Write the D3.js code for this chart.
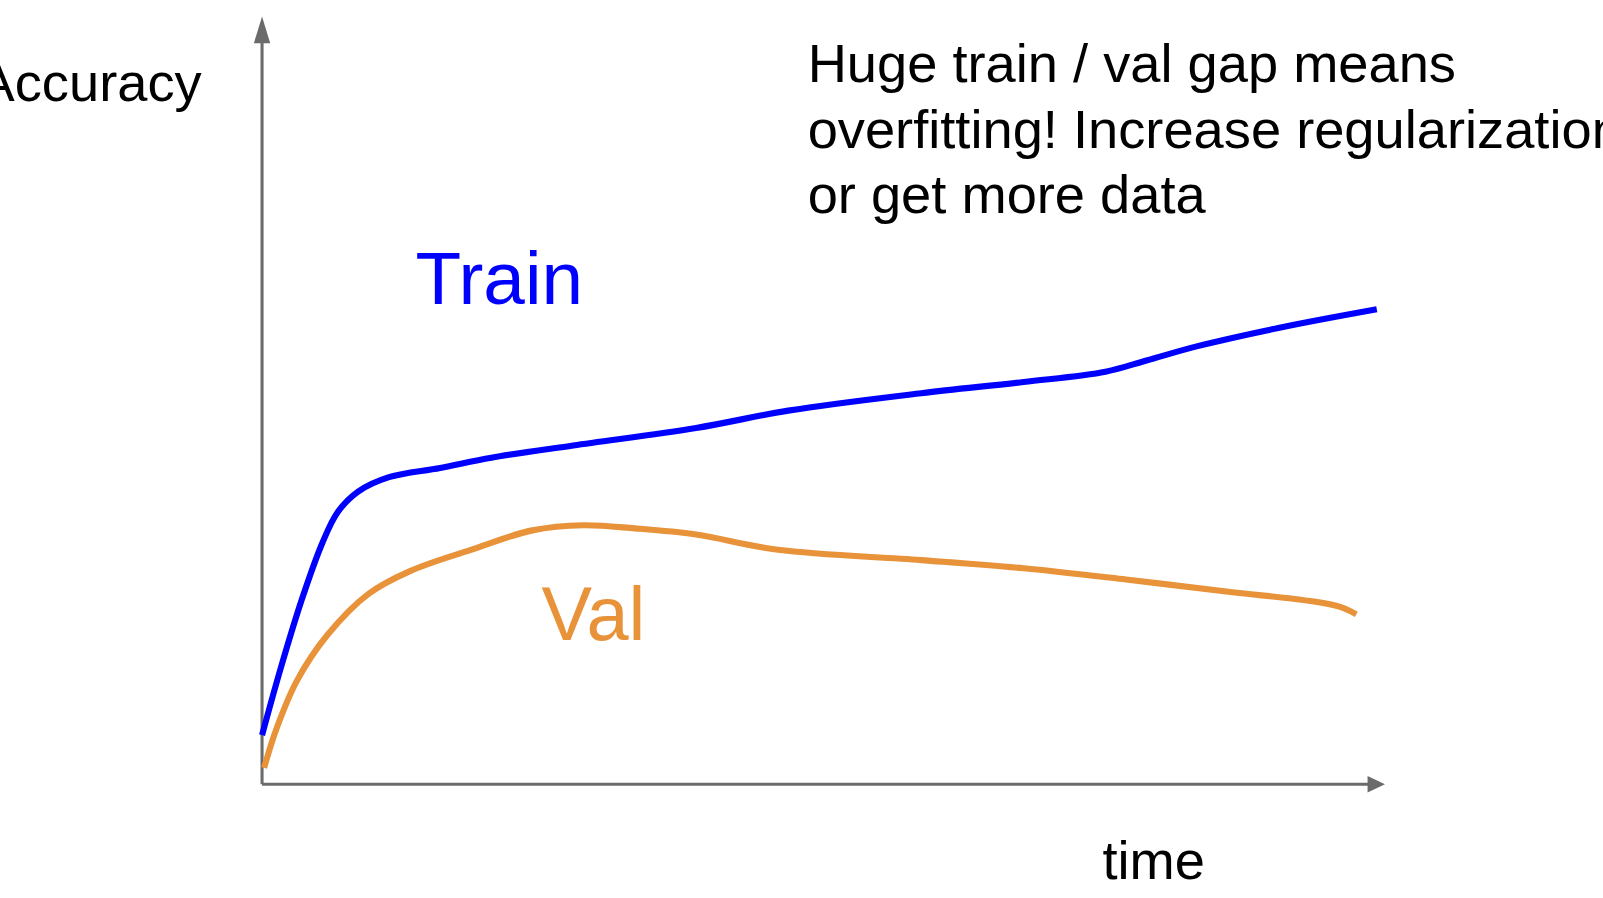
<!DOCTYPE html>
<html>
<head>
<meta charset="utf-8">
<script src="https://cdn.jsdelivr.net/npm/d3@7.9.0/dist/d3.min.js"></script>
<style>
  body { margin: 0; background: #fff; overflow: hidden; }
  svg { font-family: "Liberation Sans", Arial, sans-serif; display: block; }
</style>
</head>
<body>
<svg id="chart" width="1603" height="898" viewBox="0 0 1566 877"></svg>
<script>
// time (arbitrary units) vs accuracy (arbitrary units)
const trainT = [0, 19, 39, 59, 74, 94, 124, 174, 224, 304, 424, 514, 644, 744, 824, 864, 914, 994, 1089];
const trainAcc = [48, 116, 181, 236, 266, 286, 300, 309, 319, 331, 348, 365, 382, 393, 403, 414, 428, 446, 464];
const valT = [2, 14, 34, 64, 104, 144, 204, 264, 314, 364, 424, 504, 644, 744, 844, 944, 1024, 1054, 1069];
const valAcc = [16, 54, 101, 146, 186, 208, 229, 248, 253, 250, 244, 229, 219, 211, 200, 188, 179, 173, 166];

const svg = d3.select('#chart');

const x = d3.scaleLinear().domain([0, 1090]).range([256, 1346]);
const y = d3.scaleLinear().domain([0, 750]).range([766, 16]);

const grey = '#6b6b6b';

// axes
svg.append('line')
    .attr('x1', x(0)).attr('y1', y(0))
    .attr('x2', x(0)).attr('y2', y(735))
    .attr('stroke', grey).attr('stroke-width', 3);
svg.append('path')
    .attr('d', `M${x(0) - 8},${y(724)} L${x(0)},${y(750)} L${x(0) + 8},${y(724)} Z`)
    .attr('fill', grey);

svg.append('line')
    .attr('x1', x(0)).attr('y1', y(0))
    .attr('x2', x(1082)).attr('y2', y(0))
    .attr('stroke', grey).attr('stroke-width', 3);
svg.append('path')
    .attr('d', `M${x(1080)},${y(0) - 8} L${x(1097)},${y(0)} L${x(1080)},${y(0) + 8} Z`)
    .attr('fill', grey);

const line = d3.line()
    .x((d) => x(d[0]))
    .y((d) => y(d[1]))
    .curve(d3.curveCatmullRom);

svg.append('path')
    .datum(d3.zip(trainT, trainAcc))
    .attr('d', line)
    .attr('fill', 'none')
    .attr('stroke', '#0000ff')
    .attr('stroke-width', 6);

svg.append('path')
    .datum(d3.zip(valT, valAcc))
    .attr('d', line)
    .attr('fill', 'none')
    .attr('stroke', '#e8923a')
    .attr('stroke-width', 6);

// labels
svg.append('text').attr('x', 197).attr('y', 99)
    .attr('text-anchor', 'end')
    .attr('font-size', 53).text('Accuracy');
svg.append('text').attr('x', 1077).attr('y', 859)
    .attr('font-size', 53).text('time');
svg.append('text').attr('x', 406).attr('y', 297)
    .attr('font-size', 73).attr('fill', '#0000ff').text('Train');
svg.append('text').attr('x', 529).attr('y', 625)
    .attr('font-size', 74).attr('fill', '#e8923a').text('Val');

const note = ['Huge train / val gap means', 'overfitting! Increase regularization', 'or get more data'];
svg.append('g').selectAll('text')
    .data(note)
    .join('text')
    .attr('x', 789)
    .attr('y', (d, i) => 80 + i * 64)
    .attr('font-size', 53)
    .text((d) => d);
</script>
</body>
</html>
